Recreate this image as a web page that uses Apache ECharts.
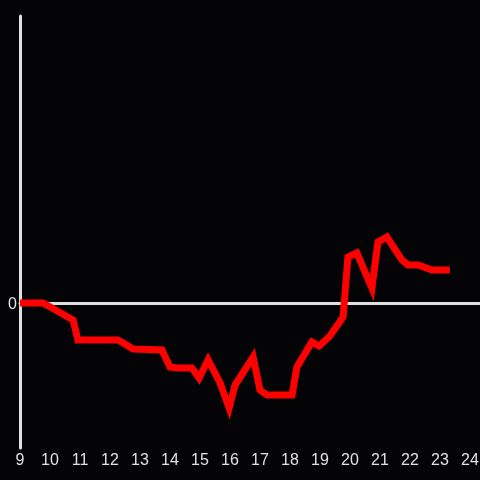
<!DOCTYPE html>
<html>
<head>
<meta charset="utf-8">
<script src="https://cdn.jsdelivr.net/npm/echarts@6/dist/echarts.min.js"></script>
<style>
  html, body { margin: 0; padding: 0; background: #040306; }
  #chart { width: 480px; height: 480px; }
</style>
</head>
<body>
<div id="chart"></div>
<script>
// hour of day
var hours = [9, 9.77, 10.77, 10.93, 12.27, 12.77, 13.73, 14.0, 14.23, 14.73, 14.97, 15.27, 15.67,
  15.97, 16.17, 16.77, 17.0, 17.23, 18.07, 18.23, 18.73, 18.97, 19.33, 19.77, 19.93, 20.23,
  20.73, 20.93, 21.23, 21.73, 21.93, 22.27, 22.73, 23.33];
// value relative to zero line
var values = [0, 0, -17, -37, -37, -46, -47, -64, -65, -65, -75, -57, -80,
  -105, -82, -54, -87, -92, -92, -64, -39, -43, -33, -14, 46, 50,
  15, 61, 66, 43, 38, 38, 33, 33];
var xTicks = [9, 10, 11, 12, 13, 14, 15, 16, 17, 18, 19, 20, 21, 22, 23, 24];

var points = hours.map(function (h, i) { return [h, values[i]]; });

var myChart = echarts.init(document.getElementById("chart"));
myChart.setOption({
  backgroundColor: "#040306",
  animation: false,
  grid: {
    top: 16,
    bottom: 32,
    left: 20,
    right: 0,
    containLabel: false,
    outerBoundsMode: "none"
  },
  xAxis: [
    {
      // labels along the bottom
      type: "value",
      position: "bottom",
      min: 9,
      max: 24.333,
      interval: 1,
      splitLine: { show: false },
      axisTick: { show: false },
      axisLine: { show: false, onZero: false },
      axisLabel: {
        color: "#e0e0e0",
        fontSize: 16,
        fontFamily: "Liberation Sans",
        margin: 5,
        showMaxLabel: false,
        hideOverlap: false,
        formatter: function (v) {
          return xTicks.indexOf(v) >= 0 ? String(v) : "";
        }
      }
    },
    {
      // zero line
      type: "value",
      position: "bottom",
      min: 9,
      max: 24.333,
      splitLine: { show: false },
      axisTick: { show: false },
      axisLabel: { show: false },
      axisLine: {
        onZero: true,
        lineStyle: { color: "#e0e0e0", width: 3 }
      }
    }
  ],
  yAxis: {
    type: "value",
    min: -145,
    max: 287,
    interval: 145,
    splitLine: { show: false },
    axisTick: { show: false },
    axisLine: {
      show: true,
      lineStyle: { color: "#e0e0e0", width: 3 }
    },
    axisLabel: {
      color: "#e0e0e0",
      fontSize: 16,
      fontFamily: "Liberation Sans",
      margin: 3,
      verticalAlign: "top",
      padding: [-6, 0, 0, 0],
      showMinLabel: false,
      showMaxLabel: false,
      formatter: function (v) {
        return v === 0 ? "0" : "";
      }
    }
  },
  series: [
    {
      type: "line",
      data: points,
      showSymbol: false,
      lineStyle: { color: "#ff0000", width: 7, join: "miter" }
    }
  ]
});
</script>
</body>
</html>
